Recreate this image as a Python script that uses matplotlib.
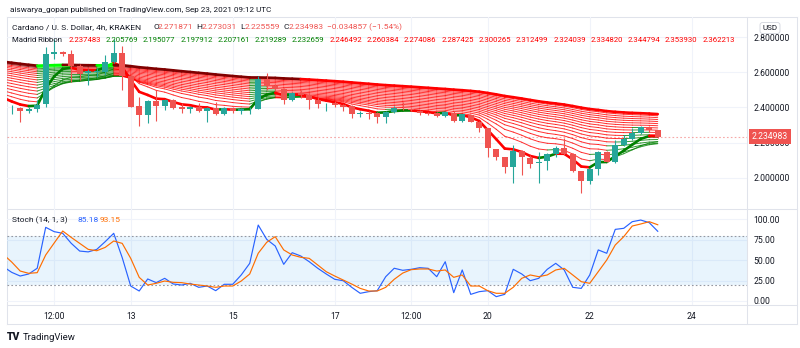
import numpy as np
import matplotlib
matplotlib.use("Agg")
import matplotlib.pyplot as plt
import matplotlib.dates as mdates
from matplotlib.collections import LineCollection
from datetime import datetime, timedelta

plt.rcParams['font.family'] = ['Roboto', 'DejaVu Sans']

# ---- data (4h candles, ADA/USD Kraken, from 2021-09-10 16:00 UTC) ----
first_bar = datetime(2021, 9, 10, 16)
opens = [2.390, 2.395, 2.382, 2.393, 2.418, 2.706, 2.714, 2.702, 2.636, 2.594,
         2.600, 2.603, 2.660, 2.708, 2.581, 2.408, 2.355, 2.435, 2.409, 2.441,
         2.404, 2.391, 2.403, 2.382, 2.395, 2.363, 2.395, 2.382, 2.390, 2.394,
         2.562, 2.524, 2.503, 2.443, 2.481, 2.471, 2.443, 2.418, 2.425, 2.412,
         2.408, 2.365, 2.368, 2.367, 2.348, 2.376, 2.392, 2.389, 2.380, 2.370,
         2.370, 2.350, 2.370, 2.325, 2.357, 2.319, 2.281, 2.162, 2.117, 2.060,
         2.153, 2.115, 2.083, 2.097, 2.134, 2.168, 2.136, 2.039, 1.984, 2.050,
         2.149, 2.092, 2.187, 2.219, 2.257, 2.287, 2.271871]
highs = [2.414, 2.403, 2.404, 2.443, 2.742, 2.790, 2.721, 2.727, 2.647, 2.620,
         2.625, 2.698, 2.790, 2.750, 2.590, 2.461, 2.440, 2.499, 2.447, 2.450,
         2.427, 2.410, 2.427, 2.400, 2.433, 2.400, 2.405, 2.395, 2.400, 2.579,
         2.594, 2.535, 2.510, 2.490, 2.500, 2.480, 2.460, 2.424, 2.435, 2.420,
         2.414, 2.382, 2.378, 2.372, 2.380, 2.408, 2.433, 2.395, 2.385, 2.372,
         2.375, 2.380, 2.380, 2.365, 2.360, 2.322, 2.285, 2.165, 2.120, 2.187,
         2.156, 2.130, 2.149, 2.140, 2.180, 2.225, 2.140, 2.040, 2.055, 2.155,
         2.152, 2.215, 2.244, 2.283, 2.295, 2.292, 2.273031]
lows = [2.363, 2.318, 2.370, 2.376, 2.401, 2.675, 2.693, 2.545, 2.556, 2.528,
        2.575, 2.585, 2.653, 2.499, 2.400, 2.295, 2.312, 2.325, 2.386, 2.390,
        2.370, 2.370, 2.375, 2.319, 2.358, 2.357, 2.370, 2.365, 2.363, 2.390,
        2.499, 2.495, 2.420, 2.435, 2.455, 2.391, 2.397, 2.382, 2.400, 2.380,
        2.339, 2.348, 2.333, 2.314, 2.310, 2.370, 2.386, 2.378, 2.360, 2.355,
        2.345, 2.345, 2.320, 2.320, 2.315, 2.262, 2.120, 2.102, 2.026, 1.973,
        2.017, 2.055, 1.973, 2.045, 2.120, 2.130, 2.032, 1.913, 1.965, 2.017,
        2.088, 2.085, 2.180, 2.215, 2.250, 2.262, 2.225559]
closes = [2.393, 2.382, 2.390, 2.414, 2.704, 2.714, 2.704, 2.638, 2.592, 2.607,
          2.610, 2.660, 2.708, 2.581, 2.405, 2.357, 2.435, 2.409, 2.441, 2.399,
          2.391, 2.403, 2.382, 2.395, 2.363, 2.395, 2.382, 2.390, 2.394, 2.562,
          2.524, 2.503, 2.443, 2.481, 2.471, 2.443, 2.418, 2.421, 2.412, 2.400,
          2.363, 2.368, 2.364, 2.348, 2.376, 2.395, 2.389, 2.383, 2.370, 2.364,
          2.352, 2.376, 2.325, 2.361, 2.319, 2.281, 2.168, 2.117, 2.060, 2.153,
          2.117, 2.079, 2.092, 2.134, 2.172, 2.136, 2.041, 1.984, 2.050, 2.149,
          2.092, 2.187, 2.219, 2.257, 2.287, 2.26984, 2.234983]

# Madrid ribbon EMA lengths and their values on the bar before the first candle
ribbon_lengths = [5, 10, 15, 20, 25, 30, 35, 40, 45, 50, 55, 60, 65, 70, 75, 80, 85, 90]
ribbon_start = [2.455, 2.476, 2.495, 2.513, 2.530, 2.546, 2.561, 2.575, 2.588,
                2.600, 2.611, 2.621, 2.630, 2.638, 2.645, 2.651, 2.656, 2.660]
ema100_start = 2.645
ribbon_legend = ["2.237483", "2.205769", "2.195077", "2.197912", "2.207161", "2.219289",
                 "2.232659", "2.246492", "2.260384", "2.274086", "2.287425", "2.300265",
                 "2.312499", "2.324039", "2.334820", "2.344794", "2.353930", "2.362213"]

# Stoch (14, 1, 3), starting one bar before the first candle
stoch_k = [42, 35, 30.5, 33, 40, 90, 84.7, 82.7, 70.5, 61, 60, 63, 72.5, 82.7, 53,
           18.3, 12.2, 26.9, 22.4, 27.7, 20.8, 19.5, 21.6, 16.7, 18.3, 12.6, 20.4,
           20.4, 31.8, 46, 92.8, 75.3, 67.2, 44.8, 59, 55, 48, 40, 33, 26.5, 24.8,
           16.7, 9.4, 11.4, 12.6, 29.7, 40, 37.5, 38.7, 40.7, 39.9, 29.7, 48.0, 10.2,
           37.9, 8.1, 11.4, 12.6, 5.3, 8.1, 38.7, 33.0, 24.8, 27.7, 38.7, 46.0, 37.9,
           16.7, 15.4, 31.8, 62.4, 58.3, 87.5, 88.8, 96.9, 98.9, 95.7, 85.18]
stoch_d = [57, 47.6, 36.6, 33.8, 34.6, 56.2, 70.9, 85.5, 77.7, 70.4, 63.1, 61.4, 65.5,
           73.3, 70.4, 52.1, 28.9, 19.5, 21.6, 24.4, 22.8, 22.4, 20.7, 19.5, 18.3, 16.7,
           18.3, 18.3, 24.4, 33.0, 58.3, 71.7, 78.6, 62.4, 56.2, 53.4, 52.1, 44.0, 35.8,
           30.5, 25.6, 20.7, 15.4, 12.2, 12.2, 16.7, 26.5, 34.1, 38.3, 39.1, 39.1, 36.6,
           37.9, 28.9, 31.8, 18.3, 18.3, 12.6, 9.4, 9.4, 16.7, 27.7, 31.8, 29.7, 31.8,
           37.9, 39.9, 31.8, 23.6, 21.6, 35.8, 50.1, 68.4, 78.6, 91.6, 94.1, 96.9, 93.15]

tick_times = [datetime(2021, 9, 11, 12), datetime(2021, 9, 13), datetime(2021, 9, 15),
              datetime(2021, 9, 17), datetime(2021, 9, 18, 12), datetime(2021, 9, 20),
              datetime(2021, 9, 22), datetime(2021, 9, 24)]
tick_labels = ["12:00", "13", "15", "17", "12:00", "20", "22", "24"]
price_ticks = [2.0, 2.2, 2.4, 2.6, 2.8]
stoch_ticks = [0, 25, 50, 75, 100]

# ---- styles ----
UP, DOWN = "#26a69a", "#ef5350"
TEXT = "#131722"
GRID = "#f0f3fa"
FRAME = "#e0e3eb"
FS = 6.2
FS_LEG = 5.6
W, H = 800, 348

opens, highs, lows, closes = map(np.array, (opens, highs, lows, closes))
n_bars = len(closes)
times = [first_bar + timedelta(hours=4 * i) for i in range(-1, n_bars)]
xs = mdates.date2num(times)
cx = xs[1:]
bar_days = 4 / 24

# EMAs of the ribbon
def ema_series(length, start):
    a = 2 / (length + 1)
    vals = [start]
    for c in closes:
        vals.append(vals[-1] + a * (c - vals[-1]))
    return np.array(vals)

ema100 = ema_series(100, ema100_start)
ribbon = [ema_series(n, s) for n, s in zip(ribbon_lengths, ribbon_start)]

def madrid_colors(vals):
    cols = []
    for k in range(1, len(vals)):
        up = vals[k] >= vals[k - 1]
        above = vals[k] > ema100[k]
        if up:
            cols.append("#00ff00" if above else "#008000")
        else:
            cols.append("#800000" if above else "#ff0000")
    return cols

fig = plt.figure(figsize=(W / 100, H / 100), dpi=100)
fig.patch.set_facecolor("white")

def px_axes(x0, y0, x1, y1):
    return fig.add_axes([x0 / W, 1 - y1 / H, (x1 - x0) / W, (y1 - y0) / H])

def ftext(x, y, s, **kw):
    kw.setdefault("va", "center")
    kw.setdefault("fontsize", FS)
    kw.setdefault("color", TEXT)
    return fig.text(x / W, 1 - y / H, s, **kw)

# frame
bg = fig.add_axes([0, 0, 1, 1], zorder=-1)
bg.set_xlim(0, W)
bg.set_ylim(H, 0)
bg.axis("off")
for y in (17, 209, 305, 324):
    bg.plot([7, 797], [y, y], color=FRAME, lw=0.75)
for x in (7, 747, 797):
    bg.plot([x, x], [17, 324], color=FRAME, lw=0.75)

x_left = mdates.date2num(first_bar - timedelta(hours=4 * 0.553))
x_right = mdates.date2num(first_bar + timedelta(hours=4 * 86.5))

# ---- price pane ----
ax = px_axes(7, 17, 747, 209)
ax.set_facecolor("none")
ax.set_xlim(x_left, x_right)
ax.set_ylim(1.8233, 2.914)
for s in ax.spines.values():
    s.set_visible(False)
ax.set_xticks(mdates.date2num(tick_times))
ax.set_xticklabels([])
ax.yaxis.tick_right()
ax.set_yticks(price_ticks)
ax.set_yticklabels([f"{v:.6f}" for v in price_ticks])
ax.tick_params(axis="both", length=0, labelsize=FS, colors=TEXT, pad=4.5)
ax.grid(True, color=GRID, lw=0.75)
ax.set_axisbelow(True)

ribbon_cols = []
for idx, vals in enumerate(ribbon):
    pts = np.column_stack([xs, vals])
    segs = np.stack([pts[:-1], pts[1:]], axis=1)
    cols = madrid_colors(vals)
    ribbon_cols.append(cols[-1])
    thick = idx in (0, len(ribbon) - 1)
    lc = LineCollection(segs, colors=cols, linewidths=1.9 if thick else 0.7,
                        alpha=1.0 if thick else 0.8,
                        zorder=2.6 if thick else 2.2, capstyle="round")
    ax.add_collection(lc)

candle_cols = np.where(closes >= opens, UP, DOWN)
ax.vlines(cx, lows, highs, colors=candle_cols, lw=0.8, zorder=3)
body_lo = np.minimum(opens, closes)
body_h = np.maximum(np.abs(closes - opens), 0.0025)
ax.bar(cx, body_h, width=bar_days * 0.7, bottom=body_lo, color=candle_cols,
       linewidth=0, zorder=4)

last = closes[-1]
ax.axhline(last, color=DOWN, lw=0.8, ls=(0, (1.5, 2)), alpha=0.5, zorder=2)
ax.text(1 + 5 / 740, last, f"{last:.6f}", transform=ax.get_yaxis_transform(),
        ha="left", va="center", color="white", fontsize=FS, zorder=6,
        bbox=dict(boxstyle="square,pad=0.3", fc=DOWN, ec="none"))

# ---- stoch pane ----
ax2 = px_axes(7, 209, 747, 305)
ax2.set_facecolor("none")
ax2.set_xlim(x_left, x_right)
ax2.set_ylim(-4.9, 112.4)
for s in ax2.spines.values():
    s.set_visible(False)
ax2.set_xticks(mdates.date2num(tick_times))
ax2.set_xticklabels(tick_labels)
ax2.yaxis.tick_right()
ax2.set_yticks(stoch_ticks)
ax2.set_yticklabels([f"{v:.2f}" for v in stoch_ticks])
ax2.tick_params(axis="y", length=0, labelsize=FS, colors=TEXT, pad=4.5)
ax2.tick_params(axis="x", length=0, labelsize=FS, colors=TEXT, pad=5)
ax2.grid(True, color=GRID, lw=0.75)
ax2.set_axisbelow(True)
ax2.axhspan(20, 80, color="#2196f3", alpha=0.1, lw=0)
for lvl in (20, 80):
    ax2.axhline(lvl, color="#9598a1", lw=0.8, ls=(0, (1.5, 2)))
ax2.plot(xs, stoch_k, color="#2962ff", lw=0.85)
ax2.plot(xs, stoch_d, color="#ff6d00", lw=0.85)

# ---- texts ----
ftext(10, 10, "aiswarya_gopan published on TradingView.com, Sep 23, 2021 09:12 UTC", fontsize=5.9)
ftext(12, 27, "Cardano / U. S. Dollar, 4h, KRAKEN", fontsize=6.0)
ohlc = [("O", opens[-1]), ("H", highs[-1]), ("L", lows[-1]), ("C", closes[-1])]
for k, (lab, v) in enumerate(ohlc):
    x0 = 153 + 43.5 * k
    ftext(x0, 27, lab, fontsize=6.0)
    ftext(x0 + 5, 27, f"{v:.6f}", color=DOWN, fontsize=6.0)
chg = closes[-1] - closes[-2]
ftext(327, 27, f"\u2212{abs(chg):.6f} (\u2212{abs(chg) / closes[-2] * 100:.2f}%)",
      color=DOWN, fontsize=6.0)

ftext(12, 40, "Madrid Ribbon", fontsize=FS_LEG)
for k, (s, c) in enumerate(zip(ribbon_legend, ribbon_cols)):
    ftext(68.3 + 37.3 * k, 40, s, fontsize=FS_LEG,
          color="#ff0000" if c in ("#ff0000", "#800000") else "#008000")

ftext(12, 220, "Stoch (14, 1, 3)", fontsize=6.0)
ftext(77, 220, f"{stoch_k[-1]:.2f}", color="#2962ff", fontsize=6.0)
ftext(99.5, 220, f"{stoch_d[-1]:.2f}", color="#ff6d00", fontsize=6.0)

ftext(770, 28, "USD", ha="center", fontsize=5.8,
      bbox=dict(boxstyle="round,pad=0.3", fc="white", ec="#d1d4dc", lw=0.6))

ftext(7, 337, "TV", fontsize=7.5, fontweight="heavy")
ftext(23, 337, "TradingView", fontsize=6.8)

fig.savefig("out.png", dpi=100, facecolor="white")
